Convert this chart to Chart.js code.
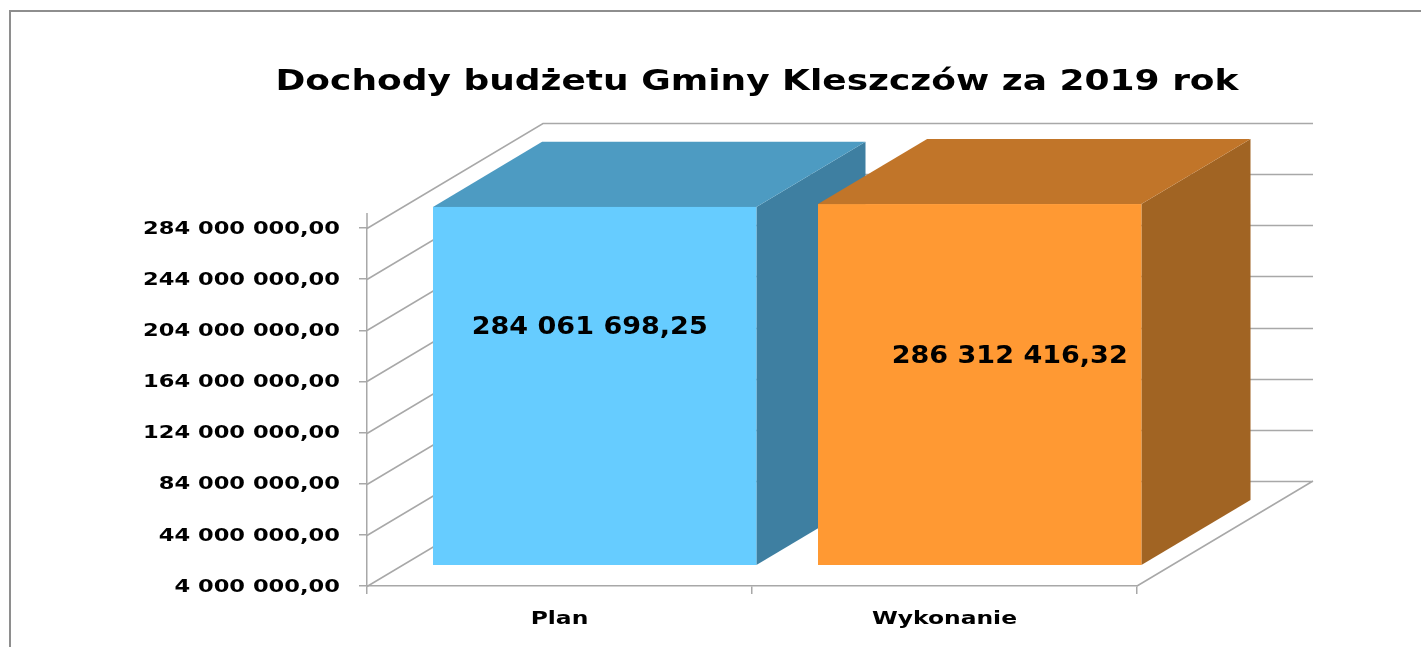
<!DOCTYPE html>
<html><head><meta charset="utf-8">
<script src="https://cdn.jsdelivr.net/npm/chart.js@4.4.1/dist/chart.umd.min.js"></script>
<style>html,body{margin:0;padding:0;background:#fff}#wrap{width:1421px;height:647px;position:relative}</style>
</head><body><div id="wrap"><canvas id="c"></canvas></div>
<script>
// ---- data ----
const titleText = 'Dochody budżetu Gminy Kleszczów za 2019 rok';
const categories = ['Plan', 'Wykonanie'];
const values = [284061698.25, 286312416.32];
const valueLabels = ['284 061 698,25', '286 312 416,32'];
const yTickValues = [4000000, 44000000, 84000000, 124000000, 164000000, 204000000, 244000000, 284000000];
const frontColors = ['#66CCFF', '#FF9933'];
const topColors = ['#4D9BC2', '#C17529'];
const sideColors = ['#3E7FA1', '#A16423'];

function fmt(v) {
  const s = Math.round(v).toString().replace(/\B(?=(\d{3})+(?!\d))/g, ' ');
  return s + ',00';
}

// ---- styling / geometry ----
const FONT = '"DejaVu Sans", Verdana, sans-serif';
const DX = 176, DY = -105;     // full depth of the 3D box
const F0 = 0.2, F1 = 0.82;     // bar depth position
const GRID = '#a8a8a8';

function stretchText(ctx, text, x, y, align, font, targetW) {
  ctx.save();
  ctx.font = font;
  const w = ctx.measureText(text).width;
  const sx = targetW / w;
  ctx.translate(x, y);
  ctx.scale(sx, 1);
  ctx.textAlign = align;
  ctx.textBaseline = 'middle';
  ctx.fillStyle = '#000';
  ctx.fillText(text, 0, 0);
  ctx.restore();
  return sx;
}

const threeD = {
  id: 'threeD',
  beforeDraw(chart) {
    const ctx = chart.ctx;
    ctx.save();
    ctx.strokeStyle = '#8e8e8e';
    ctx.lineWidth = 2;
    ctx.beginPath();
    ctx.moveTo(10, 647); ctx.lineTo(10, 11); ctx.lineTo(1421, 11);
    ctx.stroke();
    ctx.restore();
    // title
    stretchText(ctx, titleText, 757, 82, 'center', 'bold 29px ' + FONT, 963);
  },
  beforeDatasetsDraw(chart) {
    const ctx = chart.ctx, ys = chart.scales.y, a = chart.chartArea;
    ctx.save();
    ctx.strokeStyle = GRID;
    ctx.lineWidth = 1.5;
    ctx.beginPath();
    yTickValues.forEach(v => {
      const py = Math.round(ys.getPixelForValue(v)) + 0.5;
      ctx.moveTo(a.left, py);
      ctx.lineTo(a.left + DX, py + DY);
      ctx.lineTo(a.right + DX, py + DY);
    });
    ctx.moveTo(a.right, a.bottom);
    ctx.lineTo(a.right + DX, a.bottom + DY);
    ctx.moveTo(a.left, a.top - 15);
    ctx.lineTo(a.left, a.top);
    ctx.stroke();
    ctx.restore();
  },
  afterDatasetsDraw(chart) {
    const ctx = chart.ctx, a = chart.chartArea;
    const meta = chart.getDatasetMeta(0);
    const fx = F0 * DX, fy = F0 * DY, ddx = (F1 - F0) * DX, ddy = (F1 - F0) * DY;
    meta.data.forEach((el, i) => {
      const p = el.getProps(['x', 'y', 'width', 'base'], true);
      const base = Math.min(p.base, a.bottom);
      const l = p.x - p.width / 2 + fx, r = p.x + p.width / 2 + fx;
      const t = p.y + fy, b = base + fy;
      ctx.save();
      // side
      ctx.fillStyle = sideColors[i];
      ctx.beginPath();
      ctx.moveTo(r, t); ctx.lineTo(r + ddx, t + ddy); ctx.lineTo(r + ddx, b + ddy); ctx.lineTo(r, b);
      ctx.closePath(); ctx.fill();
      // top
      ctx.fillStyle = topColors[i];
      ctx.beginPath();
      ctx.moveTo(l, t); ctx.lineTo(r, t); ctx.lineTo(r + ddx, t + ddy); ctx.lineTo(l + ddx, t + ddy);
      ctx.closePath(); ctx.fill();
      // front
      ctx.fillStyle = frontColors[i];
      ctx.fillRect(l, t, r - l, b - t);
      ctx.restore();
    });
    // value labels
    const offs = chart.options.plugins.threeD.labelOffsets;
    meta.data.forEach((el, i) => {
      const p = el.getProps(['x', 'y', 'width', 'base'], true);
      const base = Math.min(p.base, a.bottom);
      const cx = p.x + fx, cy = (p.y + base) / 2 + fy;
      stretchText(ctx, valueLabels[i], cx + offs[i][0], cy + offs[i][1], 'center', 'bold 25px ' + FONT, 236);
    });
  },
  afterDraw(chart) {
    const ctx = chart.ctx, ys = chart.scales.y, xs = chart.scales.x, a = chart.chartArea;
    // y tick labels
    ctx.save();
    ctx.font = 'bold 18px ' + FONT;
    const refW = ctx.measureText(fmt(284000000)).width;
    const sx = 197 / refW;
    ctx.restore();
    yTickValues.forEach(v => {
      const py = ys.getPixelForValue(v);
      const s = fmt(v);
      ctx.save(); ctx.font = 'bold 18px ' + FONT;
      const w = ctx.measureText(s).width; ctx.restore();
      stretchText(ctx, s, a.left - 27, py + 1, 'right', 'bold 18px ' + FONT, w * sx);
    });
    // x labels
    ctx.save(); ctx.font = 'bold 17px ' + FONT;
    const wRef = ctx.measureText('Wykonanie').width; ctx.restore();
    const sxx = 145 / wRef;
    categories.forEach((c, i) => {
      const px = xs.getPixelForValue(i);
      ctx.save(); ctx.font = 'bold 17px ' + FONT;
      const w = ctx.measureText(c).width; ctx.restore();
      stretchText(ctx, c, px, a.bottom + 34, 'center', 'bold 17px ' + FONT, w * sxx);
    });
  }
};

new Chart(document.getElementById('c'), {
  type: 'bar',
  data: {
    labels: categories,
    datasets: [{
      data: values,
      backgroundColor: 'rgba(0,0,0,0)',
      borderWidth: 0,
      categoryPercentage: 0.84,
      barPercentage: 1
    }]
  },
  options: {
    responsive: true,
    maintainAspectRatio: false,
    animation: false,
    events: [],
    layout: { padding: { top: 228, right: 284, bottom: 0, left: 0 } },
    plugins: {
      legend: { display: false },
      title: { display: false },
      tooltip: { enabled: false },
      threeD: { labelOffsets: [[-5, -58], [30, -28]] }
    },
    scales: {
      x: {
        offset: true,
        grid: { display: true, drawOnChartArea: false, drawTicks: true, tickLength: 8, color: GRID, lineWidth: 1.5, offset: true },
        border: { display: true, color: GRID, width: 1.5 },
        ticks: { display: false },
        afterFit(s) { s.height = 61; }
      },
      y: {
        min: 4000000,
        max: 284000000,
        afterBuildTicks(s) { s.ticks = yTickValues.map(v => ({ value: v })); },
        grid: { display: true, drawOnChartArea: false, drawTicks: true, tickLength: 8, color: GRID, lineWidth: 1.5 },
        border: { display: true, color: GRID, width: 1.5 },
        ticks: { display: false },
        afterFit(s) { s.width = 367; }
      }
    }
  },
  plugins: [threeD]
});
</script>
</body></html>
